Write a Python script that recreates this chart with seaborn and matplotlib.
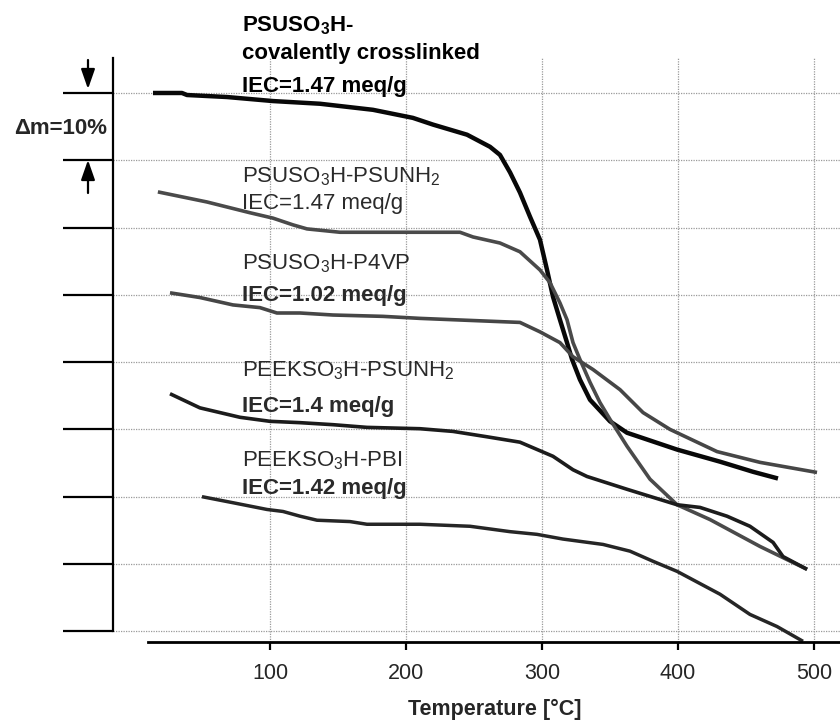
import matplotlib
matplotlib.use("Agg")
import matplotlib.pyplot as plt
import seaborn as sns
import pandas as pd

# ---------------- data (temperature in °C, relative mass in %, curves offset) ----------------
t_crosslinked = [14.0, 35.3, 39.0, 68.4, 102.2, 136.8, 175.7, 205.1, 219.9, 244.9, 261.8, 269.1,
                 276.5, 283.8, 291.2, 298.5, 303.7, 308.1, 313.2, 318.4, 322.1, 327.9, 335.3,
                 350.0, 362.5, 399.3, 430.9, 455.1, 473.5]
m_crosslinked = [100.0, 100.0, 99.7, 99.4, 98.8, 98.4, 97.5, 96.3, 95.3, 93.8, 92.0, 90.8,
                 88.2, 85.2, 81.6, 78.2, 73.7, 69.7, 66.3, 62.9, 60.4, 57.4, 54.4,
                 51.2, 49.5, 47.0, 45.2, 43.7, 42.7]

t_psunh2 = [17.6, 53.7, 85.3, 102.2, 116.9, 127.2, 151.5, 200.7, 239.7, 249.3, 269.1, 283.8,
            298.5, 305.9, 313.2, 318.4, 322.8, 327.9, 335.3, 342.6, 350.0, 362.5, 379.4,
            399.3, 423.5, 460.3, 494.9]
m_psunh2 = [85.3, 83.8, 82.2, 81.4, 80.4, 79.8, 79.3, 79.3, 79.3, 78.6, 77.7, 76.4,
            73.7, 71.8, 68.8, 66.3, 62.9, 60.4, 57.0, 54.0, 51.5, 47.5, 42.6,
            38.8, 36.6, 32.6, 29.2]

t_p4vp = [26.5, 48.5, 72.8, 92.6, 105.1, 122.1, 146.3, 183.1, 210.3, 234.6, 271.3, 283.8,
          298.5, 313.2, 322.8, 337.5, 357.4, 374.3, 394.1, 428.7, 460.3, 502.2]
m_p4vp = [70.3, 69.6, 68.5, 68.1, 67.3, 67.3, 67.0, 66.8, 66.5, 66.3, 66.0, 65.9,
          64.5, 62.9, 60.8, 58.9, 55.9, 52.5, 50.0, 46.7, 45.1, 43.6]

t_peek_psunh2 = [26.5, 48.5, 77.9, 100.0, 122.1, 146.3, 171.3, 210.3, 234.6, 259.6, 283.8,
                 308.1, 322.8, 333.1, 362.5, 399.3, 416.2, 436.0, 452.9, 469.9, 477.2, 494.9]
m_peek_psunh2 = [55.3, 53.2, 51.8, 51.2, 51.0, 50.7, 50.3, 50.1, 49.7, 48.9, 48.1,
                 46.0, 44.0, 43.0, 41.1, 38.8, 38.4, 37.1, 35.6, 33.2, 31.1, 29.2]

t_peek_pbi = [50.0, 72.8, 97.8, 109.6, 122.1, 134.6, 158.8, 171.3, 210.3, 247.1, 276.5, 296.3,
              315.4, 344.9, 364.7, 381.6, 399.3, 430.9, 452.9, 472.8, 491.9]
m_peek_pbi = [40.0, 39.1, 38.1, 37.8, 37.1, 36.5, 36.3, 35.9, 35.9, 35.6, 34.8, 34.4,
              33.7, 32.9, 31.9, 30.4, 28.9, 25.5, 22.5, 20.7, 18.5]

x_ticks = [100, 200, 300, 400, 500]
y_grid = [20, 30, 40, 50, 60, 70, 80, 90, 100]

# ---------------- styling ----------------
sns.set_style("white")
plt.rcParams["font.family"] = ["Liberation Sans", "DejaVu Sans"]
plt.rcParams["mathtext.fontset"] = "custom"
plt.rcParams["mathtext.rm"] = "Liberation Sans"
plt.rcParams["mathtext.bf"] = "Liberation Sans:bold"
plt.rcParams["mathtext.it"] = "Liberation Sans:italic"

fig = plt.figure(figsize=(8.4, 7.21), dpi=100)
ax = fig.add_axes([113 / 840, 1 - 642 / 721, 727 / 840, (642 - 58) / 721])

curves = [
    (t_crosslinked, m_crosslinked, "#080808", 3.2),
    (t_psunh2, m_psunh2, "#4a4a4a", 2.6),
    (t_p4vp, m_p4vp, "#464646", 2.6),
    (t_peek_psunh2, m_peek_psunh2, "#1c1c1c", 2.6),
    (t_peek_pbi, m_peek_pbi, "#262626", 2.5),
]
for t, m, c, lw in curves:
    df = pd.DataFrame({"T": t, "m": m})
    sns.lineplot(data=df, x="T", y="m", color=c, linewidth=lw, ax=ax,
                 estimator=None, sort=False, solid_capstyle="butt")

ax.set_xlim(-15.4, 519.1)
ax.set_ylim(18.4, 105.2)
ax.set_xticks(x_ticks)
ax.set_xticklabels([str(v) for v in x_ticks])
ax.set_yticks(y_grid)
ax.set_yticklabels([])
ax.set_ylabel("")

ax.set_axisbelow(True)
ax.grid(True, color="#9a9a9a", linestyle=(0, (1, 1)), linewidth=0.9)

for s in ["top", "right"]:
    ax.spines[s].set_visible(False)
ax.spines["left"].set_bounds(20, 105.2)
ax.spines["left"].set_linewidth(1.6)
ax.spines["left"].set_color("black")
ax.spines["bottom"].set_bounds(10.3, 519.1)
ax.spines["bottom"].set_linewidth(2.0)
ax.spines["bottom"].set_color("black")

ax.tick_params(axis="y", direction="out", length=36, width=1.6, color="black", left=True)
ax.tick_params(axis="x", direction="out", length=6, width=1.6, color="black", bottom=True,
               labelsize=15.5, pad=9)

ax.set_xlabel("Temperature [°C]", fontsize=15.5, fontweight="bold")
ax.xaxis.set_label_coords(0.525, -0.097)

# ---------------- curve labels ----------------
tx = 79.4
bold_kw = dict(fontsize=16, fontweight="bold", color="black", va="baseline", ha="left")
reg_kw = dict(fontsize=16, color="#2a2a2a", va="baseline", ha="left")
ax.text(tx, 109.2, r"PSUSO$_\mathbf{3}$H-", **bold_kw)
ax.text(tx, 105.05, "covalently crosslinked", **bold_kw)
ax.text(tx, 100.15, "IEC=1.47 meq/g", **bold_kw)
ax.text(tx, 86.64, r"PSUSO$_3$H-PSUNH$_2$", **reg_kw)
ax.text(tx, 82.78, "IEC=1.47 meq/g", **reg_kw)
ax.text(tx, 73.73, r"PSUSO$_3$H-P4VP", **reg_kw)
ax.text(tx, 69.13, "IEC=1.02 meq/g", fontsize=16, fontweight="bold", color="#2a2a2a",
        va="baseline", ha="left")
ax.text(tx, 57.85, r"PEEKSO$_3$H-PSUNH$_2$", **reg_kw)
ax.text(tx, 52.65, "IEC=1.4 meq/g", fontsize=16, fontweight="bold", color="#2a2a2a",
        va="baseline", ha="left")
ax.text(tx, 44.49, r"PEEKSO$_3$H-PBI", **reg_kw)
ax.text(tx, 40.33, "IEC=1.42 meq/g", fontsize=16, fontweight="bold", color="#2a2a2a",
        va="baseline", ha="left")

# ---------------- Δm scale marker ----------------
fig.text(14 / 840, 1 - 128 / 721, "Δm=10%", fontsize=16, fontweight="bold",
         ha="left", va="center")
arrow_kw = dict(arrowstyle="-|>,head_length=0.8,head_width=0.28", color="black",
                lw=1.6, mutation_scale=15, shrinkA=0, shrinkB=0)
ax.annotate("", xy=(88 / 840, 1 - 89 / 721), xytext=(88 / 840, 1 - 60 / 721),
            xycoords="figure fraction", textcoords="figure fraction", arrowprops=arrow_kw)
ax.annotate("", xy=(88 / 840, 1 - 160 / 721), xytext=(88 / 840, 1 - 193 / 721),
            xycoords="figure fraction", textcoords="figure fraction", arrowprops=arrow_kw)

fig.savefig("out.png", dpi=100)
